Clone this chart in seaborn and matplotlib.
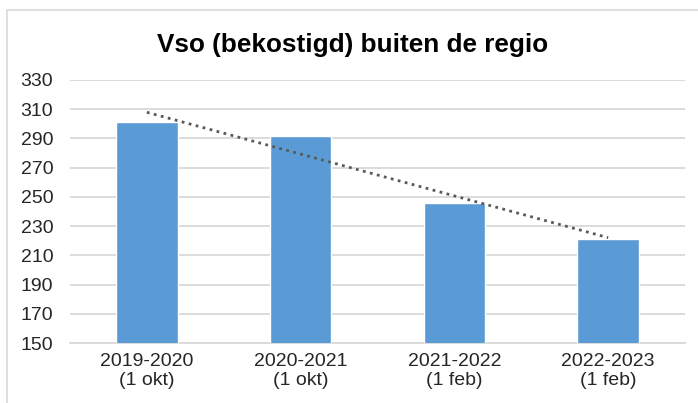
import numpy as np
import pandas as pd
import seaborn as sns
import matplotlib.pyplot as plt
from matplotlib.patches import Rectangle

jaren = ['2019-2020\n(1 okt)', '2020-2021\n(1 okt)', '2021-2022\n(1 feb)', '2022-2023\n(1 feb)']
aantallen = [301, 292, 246, 221]

df = pd.DataFrame({'jaar': jaren, 'aantal': aantallen})

sns.set_style('white')
plt.rcParams['font.family'] = ['Liberation Sans', 'DejaVu Sans']

fig = plt.figure(figsize=(6.98, 4.03), dpi=100)
ax = fig.add_axes([70 / 698, 1 - 343 / 403, 615 / 698, 263 / 403])

sns.barplot(data=df, x='jaar', y='aantal', color='#5b9bd5', width=0.4,
            saturation=1, ax=ax, zorder=3)

# lineaire trendlijn
x = np.arange(len(aantallen))
a, b = np.polyfit(x, aantallen, 1)
ax.plot(x, a * x + b, color='#595959', linestyle=(0, (1, 1.6)), linewidth=2, zorder=4)

ax.set_ylim(150, 330)
ax.set_yticks(range(150, 331, 20))
ax.set_xlim(-0.5, 3.5)
ax.grid(axis='y', color='#d9d9d9', linewidth=1.3, zorder=0)
ax.set_xlabel('')
ax.set_ylabel('')
for s in ['top', 'right', 'left']:
    ax.spines[s].set_visible(False)
ax.spines['bottom'].set_color('#d9d9d9')
ax.spines['bottom'].set_linewidth(1.3)
ax.tick_params(axis='both', labelsize=14, colors='#262626', length=0)
ax.tick_params(axis='y', pad=12)
ax.tick_params(axis='x', pad=7)

fig.text(0.505, 1 - 45 / 403, 'Vso (bekostigd) buiten de regio', ha='center', va='center',
         fontsize=18.8, fontweight='bold', color='black')

fig.patches.append(Rectangle((7 / 698, -0.01), 0.995, 1 - 10 / 403 + 0.01, transform=fig.transFigure,
                             fill=False, edgecolor='#d9d9d9', linewidth=1.2))

fig.savefig('out.png', dpi=100)
